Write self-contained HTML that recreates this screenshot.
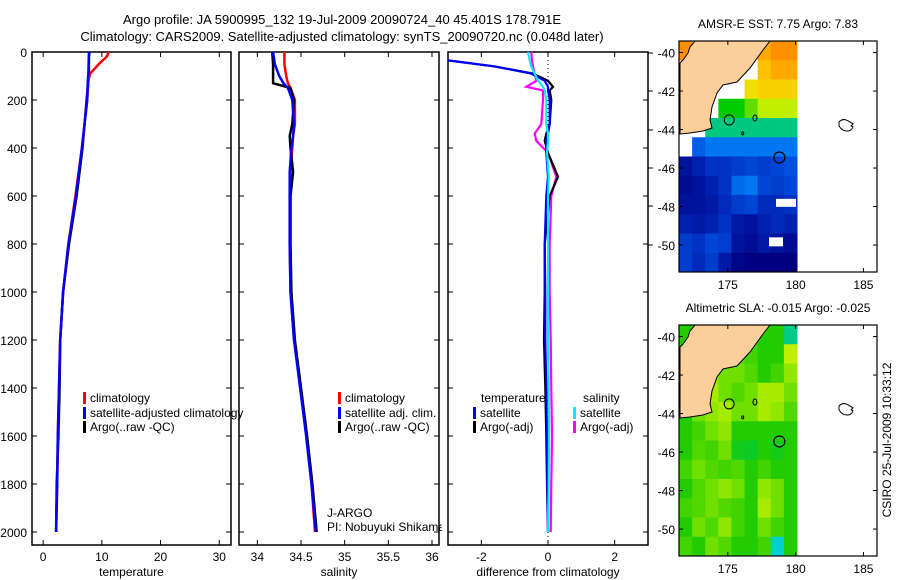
<!DOCTYPE html>
<html><head><meta charset="utf-8">
<style>
html,body{margin:0;padding:0;background:#fff;}
svg{display:block;font-family:"Liberation Sans",sans-serif;}
text{fill:#000;}
</style></head>
<body>
<svg id="fig" width="900" height="580" viewBox="0 0 900 580">
<defs>
<clipPath id="c1"><rect x="32" y="52" width="199" height="493"/></clipPath>
<clipPath id="c2"><rect x="239" y="52" width="200" height="493"/></clipPath>
<clipPath id="c3"><rect x="448" y="52" width="200" height="493"/></clipPath>
</defs>
<text x="342" y="24" font-size="13" text-anchor="middle">Argo profile: JA 5900995_132 19-Jul-2009 20090724_40 45.401S 178.791E</text>
<text x="342" y="41" font-size="13" text-anchor="middle">Climatology: CARS2009. Satellite-adjusted climatology: synTS_20090720.nc (0.048d later)</text>
<g id="g1"></g>
<g id="g2"></g>
<g id="g3"></g>
<g id="m1"></g>
<g id="m2"></g>
<text transform="translate(891,440) rotate(-90)" font-size="12" text-anchor="middle">CSIRO 25-Jul-2009 10:33:12</text>
</svg>
<script>
// ---------- data ----------
const tDepths = [0,20,50,90,120,200,400,600,800,1000,1200,1400,1600,1800,2000];
const tClim = [11.2,10.8,9.5,8.0,7.7,7.5,6.6,5.5,4.3,3.4,2.9,2.7,2.5,2.4,2.2];
const tSat = [7.8,7.8,7.75,7.7,7.6,7.5,6.6,5.6,4.3,3.4,2.9,2.7,2.5,2.4,2.2];
const tArgo = [7.9,7.8,7.8,7.8,7.7,7.4,6.7,5.7,4.4,3.4,2.9,2.8,2.6,2.3,2.2];

const sDepths = [0,50,100,130,150,200,300,350,400,500,600,800,1000,1200,1400,1600,1800,2000];
const sClim = [34.31,34.31,34.33,34.35,34.38,34.43,34.43,34.41,34.4,34.38,34.37,34.37,34.38,34.42,34.5,34.56,34.62,34.66];
const sSat = [34.18,34.2,34.25,34.3,34.35,34.4,34.42,34.41,34.39,34.37,34.37,34.37,34.38,34.42,34.49,34.56,34.62,34.67];
const sArgo = [34.17,34.18,34.18,34.18,34.38,34.42,34.4,34.37,34.38,34.41,34.38,34.38,34.39,34.43,34.5,34.57,34.63,34.68];

const dDepths = [0,35,60,90,120,145,160,200,300,340,370,420,520,600,800,1000,1200,1400,1600,1800,2000];
const dTSat = [-3.2,-3.0,-1.6,-0.5,-0.1,0.0,0.0,0.05,0.05,0,-0.05,-0.05,0,-0.05,-0.1,-0.08,-0.08,-0.05,-0.03,-0.02,0];
const dTArgo = [-3.2,-3.0,-1.6,-0.45,0.0,0.15,0.05,0.1,0.05,-0.05,-0.1,0.0,0.3,0.05,-0.1,-0.1,-0.12,-0.08,-0.05,-0.03,0];
const dSSat = [-0.6,-0.55,-0.5,-0.4,-0.3,-0.15,-0.1,-0.05,-0.05,0,0,-0.03,0.02,0,0,0,0,0.02,0.03,0.02,0];
const dSArgo = [-0.5,-0.48,-0.45,-0.4,-0.35,-0.65,-0.15,-0.15,-0.2,-0.4,-0.35,0.0,0.25,0.1,0.05,0.05,0.08,0.1,0.12,0.1,0.08];

const depthTicks = [0,200,400,600,800,1000,1200,1400,1600,1800,2000];
const tTicks = [0,10,20,30];
const sTicks = [34,34.5,35,35.5,36];
const sTickLabels = ['34','34.5','35','35.5','36'];
const dTicks = [-2,0,2];

// SST grid: rows lat -39.4 → -51.4 (1 deg), cols lon 171.5 → 180.2
const sstRows = [
 [13,null,null,null,null,null,12.5,13,13],
 [null,null,null,null,null,null,12,12.5,12.5],
 [null,null,null,null,null,11,11.5,11.5,11.5],
 [null,null,null,9,9,9.5,10,10,10],
 [null,null,8.6,8.6,8.6,8.6,8.6,8.6,8.6],
 [null,7.1,7.3,7.3,7.3,7.3,7.3,7.3,7.3],
 [6.3,6.5,6.7,6.7,6.8,6.9,6.8,6.9,7],
 [6.2,6.3,6.5,6.7,7.2,7.3,6.9,6.8,6.9],
 [6.3,6.3,6.4,6.6,6.8,6.9,6.6,6.6,6.7],
 [6.5,6.4,6.5,6.7,6.4,6.3,6.5,6.6,6.5],
 [6.8,6.7,6.9,6.8,6.3,6.2,6.4,6.3,6.2],
 [6.8,6.6,6.8,6.4,6.1,6.0,6.0,6.0,6.0]
];
const slaRows = [
 [0,0.02,0.05,0.05,0.02,0,0,0,-0.1],
 [0,0,0.05,0.02,0.03,0.02,0,0,0.12],
 [0,0,0.08,0.05,0.05,0.03,0,0.02,0.08],
 [0.03,0.08,0.1,0.05,0.03,0.05,0.1,0.1,0.05],
 [0,0.05,0.08,0.1,0.05,0.05,0.1,0.08,0.03],
 [0,0.02,0.05,0.08,0,0,0,0,0],
 [0,0.03,0.02,0.05,-0.02,-0.03,0,-0.02,0],
 [0.02,0.05,0.03,0.02,0.03,0,0.02,0,0],
 [0,0.03,0.05,0.08,0.05,0,0.08,0.05,0],
 [0.02,0.03,0.05,0.03,0.02,0,0.1,0.05,0],
 [0,0.05,0.03,0.08,0.02,0,0.05,0.02,0],
 [0.02,0,0.05,0.03,0,0,0.02,-0.15,0]
];
const lonTicks = [175,180,185];
const latTicks = [-40,-42,-44,-46,-48,-50];

// ---------- helpers ----------
const NS='http://www.w3.org/2000/svg';
function mk(tag, attrs, parent){const e=document.createElementNS(NS,tag);for(const k in attrs)e.setAttribute(k,attrs[k]);parent.appendChild(e);return e;}
const Y0=52, YB=545;
const yD = d => Y0 + d*0.24;

function panel(g, x0, x1, vmin, vmax, ticks, labels, xlabel, clip){
  const sx = v => x0 + (v - vmin)/(vmax - vmin)*(x1 - x0);
  const fr = mk('rect',{x:x0,y:Y0,width:x1-x0,height:YB-Y0,fill:'none',stroke:'#000','stroke-width':1.5},g);
  
  
  depthTicks.forEach(d=>{
    const y=yD(d);
    mk('line',{x1:x0,x2:x0+5,y1:y,y2:y,stroke:'#000'},g);
    mk('line',{x1:x1,x2:x1-5,y1:y,y2:y,stroke:'#000'},g);
  });
  ticks.forEach((v,i)=>{
    const x=sx(v);
    mk('line',{x1:x,x2:x,y1:Y0,y2:Y0+5,stroke:'#000'},g);
    mk('line',{x1:x,x2:x,y1:YB,y2:YB-5,stroke:'#000'},g);
    const t=mk('text',{x:x,y:561,'font-size':12,'text-anchor':'middle'},g);
    t.textContent=labels[i];
    
    
  });
  const xl=mk('text',{x:(x0+x1)/2,y:576,'font-size':12,'text-anchor':'middle'},g);
  xl.textContent=xlabel;
  
  
  return sx;
}
function series(g, sx, vals, depths, color, clip, name, w){
  const pts=vals.map((v,i)=>sx(v).toFixed(1)+','+yD(depths[i]).toFixed(1)).join(' ');
  const p=mk('polyline',{points:pts,fill:'none',stroke:color,'stroke-width':w||2.5,'clip-path':'url(#'+clip+')','stroke-linejoin':'miter'},g);
  
  
}
function legend(g, x, y, color, label){
  mk('rect',{x:x,y:y-10,width:3,height:12,fill:color},g);
  const t=mk('text',{x:x+7,y:y,'font-size':12},g);
  t.textContent=label;
  
  
}

// depth labels
const g1=document.getElementById('g1');
depthTicks.forEach(d=>{
  const t=mk('text',{x:27,y:yD(d)+5,'font-size':12,'text-anchor':'end'},g1);
  t.textContent=d;
  
  
});

// panel 1
const sx1=panel(g1,32,231,-1.9,32,tTicks,tTicks.map(String),'temperature');
series(g1,sx1,tArgo,tDepths,'#000','c1','argo-temperature-line');
series(g1,sx1,tClim,tDepths,'#f00','c1','climatology-temperature-line');
series(g1,sx1,tSat,tDepths,'#00f','c1','satellite-temperature-line');
legend(g1,83,402,'#f00','climatology');
legend(g1,83,417,'#00f','satellite-adjusted climatology');
legend(g1,83,431,'#000','Argo(..raw -QC)');

// panel 2
const g2=document.getElementById('g2');
const sx2=panel(g2,239,439,33.79,36.08,sTicks,sTickLabels,'salinity');
series(g2,sx2,sClim,sDepths,'#f00','c2','climatology-salinity-line');
series(g2,sx2,sArgo,sDepths,'#000','c2','argo-salinity-line');
series(g2,sx2,sSat,sDepths,'#00f','c2','satellite-salinity-line');
legend(g2,338,402,'#f00','climatology');
legend(g2,338,417,'#00f','satellite adj. clim.');
legend(g2,338,431,'#000','Argo(..raw -QC)');
const ja=mk('text',{x:327,y:517,'font-size':12},g2); ja.textContent='J-ARGO';
 
const pi=mk('text',{x:327,y:531,'font-size':12},g2); pi.textContent='PI: Nobuyuki Shikama';
 
mk('rect',{x:442,y:515,width:5,height:20,fill:'#fff'},g2);

// panel 3
const g3=document.getElementById('g3');
const sx3=panel(g3,448,648,-3.0,3.0,dTicks,dTicks.map(String),'difference from climatology');
const zl=mk('line',{x1:sx3(0),x2:sx3(0),y1:Y0,y2:YB,stroke:'#000','stroke-dasharray':'1,3'},g3);
 
series(g3,sx3,dSArgo,dDepths,'#f0f','c3','argo-salinity-diff-line',2.2);
series(g3,sx3,dTArgo,dDepths,'#000','c3','argo-temperature-diff-line',2.2);
series(g3,sx3,dTSat,dDepths,'#00f','c3','satellite-temperature-diff-line',2.2);
series(g3,sx3,dSSat,dDepths,'#0ee','c3','satellite-salinity-diff-line',2.2);
const lt=mk('text',{x:481,y:402,'font-size':12},g3); lt.textContent='temperature';
 
const ls=mk('text',{x:583,y:402,'font-size':12},g3); ls.textContent='salinity';
 
legend(g3,473,417,'#00f','satellite');
legend(g3,473,431,'#000','Argo(-adj)');
legend(g3,573,417,'#0ee','satellite');
legend(g3,573,431,'#f0f','Argo(-adj)');
[53,91,130,168,206,245].forEach(y=>mk('line',{x1:648,x2:653,y1:y,y2:y,stroke:'#000'},g3));

// ---------- maps ----------
function lerpColor(stops, v){
  if(v<=stops[0][0]) return stops[0][1];
  for(let i=1;i<stops.length;i++){
    if(v<=stops[i][0]){
      const a=stops[i-1],b=stops[i],t=(v-a[0])/(b[0]-a[0]);
      const ca=a[1].match(/\w\w/g).map(h=>parseInt(h,16)),cb=b[1].match(/\w\w/g).map(h=>parseInt(h,16));
      return '#'+ca.map((c,j)=>Math.round(c+(cb[j]-c)*t).toString(16).padStart(2,'0')).join('');
    }
  }
  return stops[stops.length-1][1];
}
const sstStops=[[6,'#000080'],[6.5,'#0020b0'],[7,'#0050e0'],[7.5,'#0090ff'],[8,'#00d0e0'],[8.6,'#00c880'],[9,'#00cc00'],[10,'#c0f000'],[11,'#f0e000'],[12,'#ffc000'],[13,'#ff9000']];
const slaStops=[[-0.15,'#00d0d0'],[-0.05,'#00c840'],[0,'#22cc00'],[0.05,'#70e000'],[0.12,'#c0f000']];

function drawMap(g, top, bottom, rows, stops, title, landHole, name){
  const L=679,R=877,lon0=171.4,lon1=186.0,lat0=-39.4,lat1=-51.4;
  const mx=lon=>L+(lon-lon0)/(lon1-lon0)*(R-L);
  const my=lat=>top+(lat-lat0)/(lat1-lat0)*(bottom-top);
  const dx0=L, dx1=797, cw=(dx1-dx0)/rows[0].length, ch=(bottom-top)/rows.length;
  rows.forEach((row,r)=>row.forEach((v,c)=>{
    if(v===null) return;
    const cell=mk('rect',{x:dx0+c*cw,y:top+r*ch,width:cw+0.5,height:ch+0.5,fill:lerpColor(stops,v)},g);
    
    
  }));
  const dy=top-41;
  const land=[[695,40],[770,40],[763,50],[750,68],[737,82],[723,85],[717,93],[712,107],[710,120],[712,128],[703,131],[690,133],[680,134],[680,63],[683,60],[688,53],[690,47]];
  const lp=mk('polygon',{points:land.map(p=>p[0]+','+(Math.max(p[1]+dy,top))).join(' '),fill:'#fccf9a',stroke:'#000','stroke-width':1},g);
   
  if(landHole){
    mk('rect',{x:776,y:my(-47.6),width:20,height:8,fill:'#fff'},g);
    mk('rect',{x:769,y:my(-49.6),width:14,height:9,fill:'#fff'},g);
  }
  mk('ellipse',{cx:mx(175.1),cy:my(-43.5),rx:5,ry:5,fill:'none',stroke:'#000'},g);
  mk('ellipse',{cx:mx(177.0),cy:my(-43.4),rx:2,ry:3,fill:'none',stroke:'#000'},g);
  mk('ellipse',{cx:mx(176.1),cy:my(-44.2),rx:1,ry:1.5,fill:'none',stroke:'#000'},g);
  const ring=mk('ellipse',{cx:mx(178.8),cy:my(-45.45),rx:5.5,ry:5.5,fill:'none',stroke:'#000','stroke-width':1.2},g);
   
  const ch2=mk('path',{d:`M${mx(183.2)},${my(-43.6)} q4,-4 9,-1 q3,2 5,3 l-2,2 l2,1 q-2,5 -7,4 q-4,0 -7,-5 z`,fill:'#fff',stroke:'#000'},g);
   
  const fr=mk('rect',{x:L,y:top,width:R-L,height:bottom-top,fill:'none',stroke:'#000','stroke-width':1.2},g);
   
  lonTicks.forEach(lo=>{
    const x=mx(lo);
    mk('line',{x1:x,x2:x,y1:top,y2:top+4,stroke:'#000'},g);
    mk('line',{x1:x,x2:x,y1:bottom,y2:bottom-4,stroke:'#000'},g);
    const t=mk('text',{x:x,y:bottom+17,'font-size':12,'text-anchor':'middle'},g);
    t.textContent=lo;
    
    
  });
  latTicks.forEach(la=>{
    const y=my(la);
    mk('line',{x1:L,x2:L+4,y1:y,y2:y,stroke:'#000'},g);
    mk('line',{x1:R,x2:R-4,y1:y,y2:y,stroke:'#000'},g);
    const t=mk('text',{x:L-4,y:y+5,'font-size':12,'text-anchor':'end'},g);
    t.textContent=la;
    
    
  });
  const tt=mk('text',{x:(L+R)/2,y:top-13,'font-size':12,'text-anchor':'middle'},g);
  tt.textContent=title;
  
  
}
drawMap(document.getElementById('m1'),41,272,sstRows,sstStops,'AMSR-E SST: 7.75 Argo: 7.83',true,'sst-map');
drawMap(document.getElementById('m2'),325,556,slaRows,slaStops,'Altimetric SLA: -0.015 Argo: -0.025',false,'sla-map');
</script>
</body></html>
